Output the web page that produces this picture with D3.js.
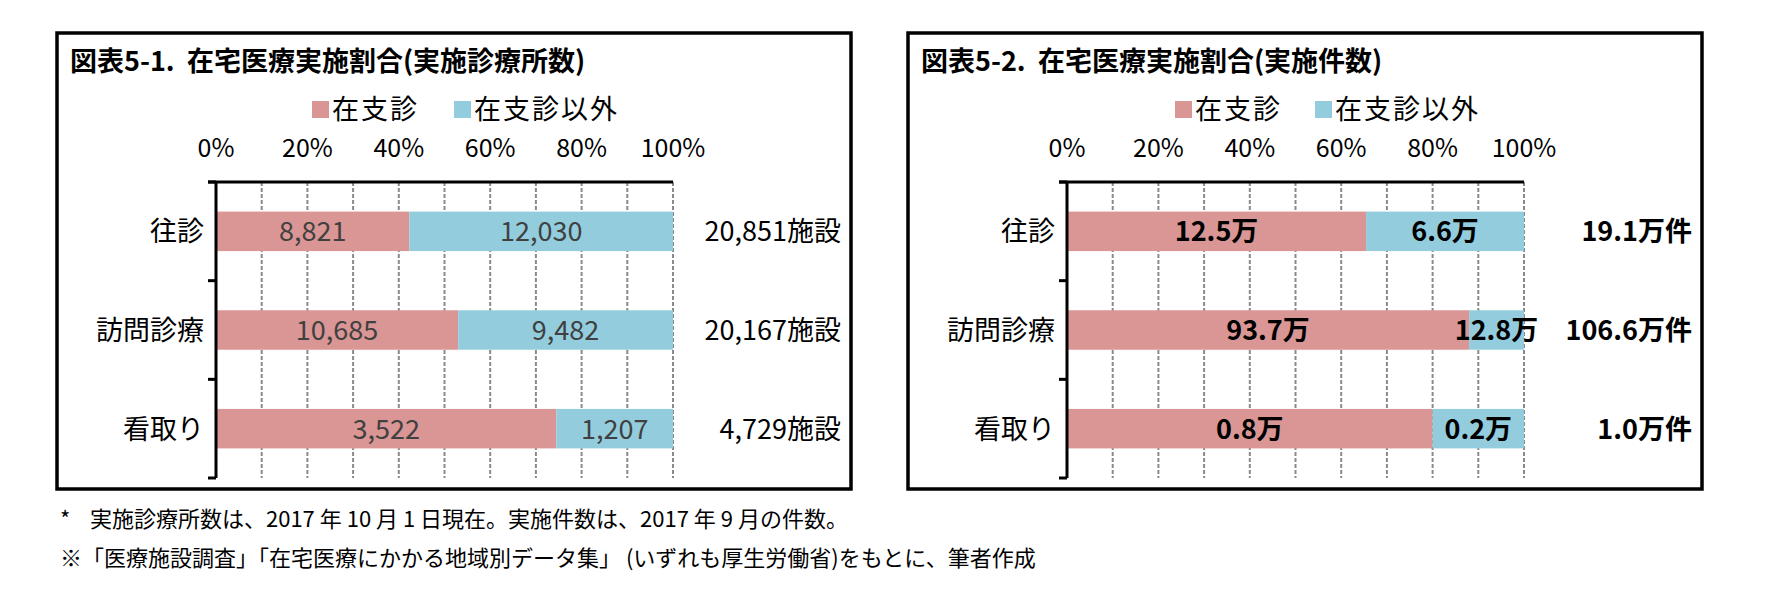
<!DOCTYPE html>
<html><head><meta charset="utf-8">
<script src="https://cdn.jsdelivr.net/npm/d3@7"></script>
<style>body{margin:0;background:#fff}text{font-family:"Noto Sans CJK JP",sans-serif}</style>
</head><body><svg id="c" width="1772" height="592"></svg>
<script>
const categories = ["往診","訪問診療","看取り"];
const seriesNames = ["在支診","在支診以外"];
const colors = ["#d99694","#93cddd"];
const ticks = [0,0.2,0.4,0.6,0.8,1.0];
// chart 1: facilities
const c1Zaishi = [8821,10685,3522];
const c1Other = [12030,9482,1207];
const c1Labels1 = ["8,821","10,685","3,522"];
const c1Labels2 = ["12,030","9,482","1,207"];
const c1Totals = ["20,851施設","20,167施設","4,729施設"];
// chart 2: cases (万件)
const c2Zaishi = [12.5,93.7,0.8];
const c2Other = [6.6,12.8,0.2];
const c2Labels1 = ["12.5万","93.7万","0.8万"];
const c2Labels2 = ["6.6万","12.8万","0.2万"];
const c2Totals = ["19.1万件","106.6万件","1.0万件"];

const svg = d3.select("#c");
function panel(o){
  const g = svg.append("g");
  g.append("rect").attr("x",o.bx).attr("y",33).attr("width",794).attr("height",456)
    .attr("fill","none").attr("stroke","#000").attr("stroke-width",3.5);
  g.append("text").attr("x",o.bx+13).attr("y",71).attr("font-size",27).attr("font-weight","bold")
    .attr("xml:space","preserve").text(o.title);
  const x = d3.scaleLinear().domain([0,1]).range([o.ax,o.ax+457]);
  const y = d3.scaleBand().domain(categories).range([182,478]).paddingInner(0.6).paddingOuter(0.3);
  const yb = d3.scaleBand().domain(categories).range([182,478]);
  const lg = g.append("g");
  seriesNames.forEach((s,i)=>{
    const lx = o.lx[i];
    lg.append("rect").attr("x",lx).attr("y",101).attr("width",17).attr("height",17).attr("fill",colors[i]);
    lg.append("text").attr("x",lx+20).attr("y",119).attr("font-size",27).attr("letter-spacing",2).text(s);
  });
  g.selectAll(".tk").data(ticks).join("text").attr("x",d=>x(d)).attr("y",157)
    .attr("text-anchor","middle").attr("font-size",25).text(d=>Math.round(d*100)+"%");
  g.selectAll(".gl").data(d3.range(1,11).map(d=>d/10)).join("line")
    .attr("x1",d=>x(d)).attr("x2",d=>x(d)).attr("y1",182).attr("y2",478)
    .attr("stroke","#8a8a8a").attr("stroke-width",2).attr("stroke-dasharray","4,2");
  const tot = categories.map((c,i)=>o.a[i]+o.b[i]);
  categories.forEach((c,i)=>{
    const p1 = o.a[i]/tot[i];
    g.append("rect").attr("x",x(0)).attr("y",y(c)).attr("width",x(p1)-x(0)).attr("height",y.bandwidth()).attr("fill",colors[0]);
    g.append("rect").attr("x",x(p1)).attr("y",y(c)).attr("width",x(1)-x(p1)).attr("height",y.bandwidth()).attr("fill",colors[1]);
    const cy = y(c)+y.bandwidth()/2+10;
    g.append("text").attr("x",(x(0)+x(p1))/2).attr("y",cy).attr("text-anchor","middle").attr("font-size",27)
      .attr("fill",o.lc).attr("font-weight",o.fw).text(o.l1[i]);
    g.append("text").attr("x",(x(p1)+x(1))/2).attr("y",cy).attr("text-anchor","middle").attr("font-size",27)
      .attr("fill",o.lc).attr("font-weight",o.fw).text(o.l2[i]);
    g.append("text").attr("x",o.bx+784).attr("y",cy).attr("text-anchor","end").attr("font-size",27).attr("font-weight",o.fw).text(o.t[i]);
    g.append("text").attr("x",o.ax-12).attr("y",cy).attr("text-anchor","end").attr("font-size",27).text(c);
  });
  g.append("line").attr("x1",o.ax-8).attr("x2",x(1)).attr("y1",182).attr("y2",182).attr("stroke","#000").attr("stroke-width",3);
  g.append("line").attr("x1",o.ax).attr("x2",o.ax).attr("y1",182).attr("y2",478).attr("stroke","#000").attr("stroke-width",3);
  const bnd = [182, ...categories.slice(1).map(c=>yb(c)), 478];
  g.selectAll(".yt").data(bnd).join("line").attr("x1",o.ax-8).attr("x2",o.ax).attr("y1",d=>d).attr("y2",d=>d)
    .attr("stroke","#000").attr("stroke-width",3);
}
panel({bx:57,ax:216,lx:[312,454],title:"図表5-1.  在宅医療実施割合(実施診療所数)",a:c1Zaishi,b:c1Other,l1:c1Labels1,l2:c1Labels2,t:c1Totals,lc:"#404040",fw:"normal"});
panel({bx:908,ax:1067,lx:[1175,1315],title:"図表5-2.  在宅医療実施割合(実施件数)",a:c2Zaishi,b:c2Other,l1:c2Labels1,l2:c2Labels2,t:c2Totals,lc:"#000",fw:"bold"});
svg.append("text").attr("x",60).attr("y",527).attr("font-size",22).attr("xml:space","preserve")
  .text("*    実施診療所数は、2017 年 10 月 1 日現在。実施件数は、2017 年 9 月の件数。");
svg.append("text").attr("x",60).attr("y",566).attr("font-size",22)
  .text("※「医療施設調査」「在宅医療にかかる地域別データ集」 (いずれも厚生労働省)をもとに、筆者作成");
</script></body></html>
